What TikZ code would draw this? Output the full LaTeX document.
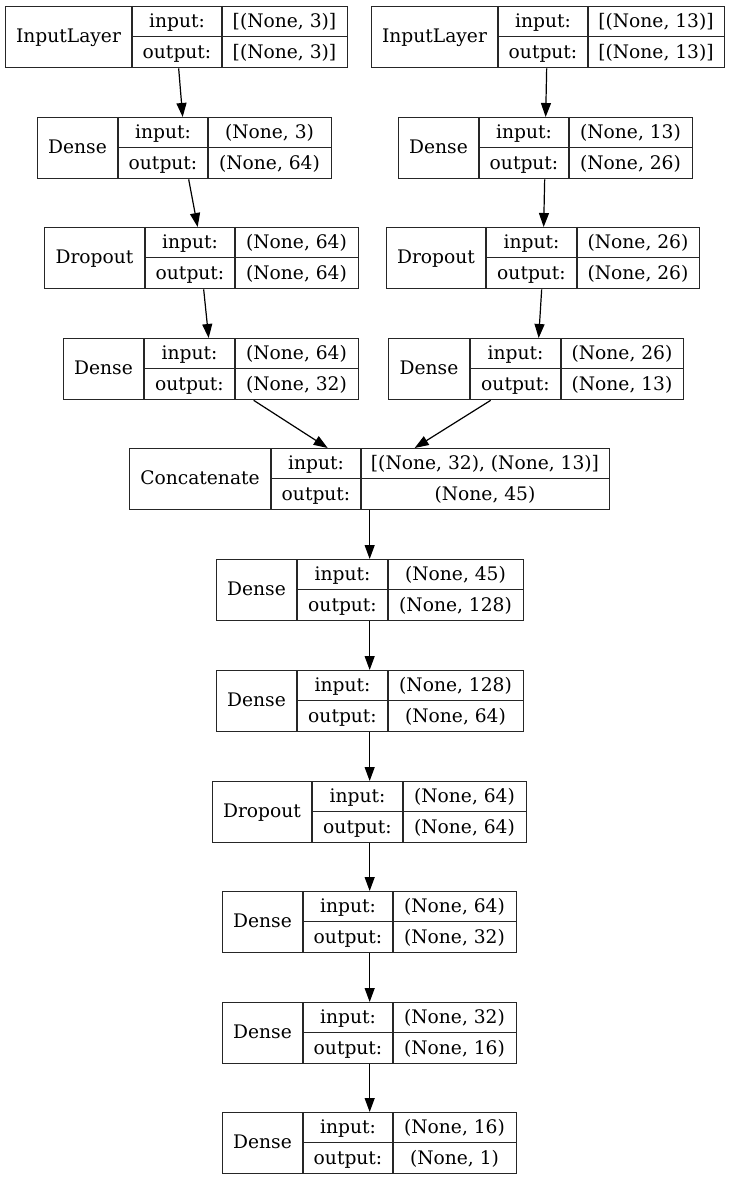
\documentclass[tikz,border=0pt]{standalone}
\usepackage{fontspec}
\setmainfont{DejaVu Serif}
\usetikzlibrary{calc}
\usetikzlibrary{arrows.meta}

\tikzset{
  box/.style={draw=black!85, line width=1pt},
  cell/.style={inner sep=0pt, text height=12.5pt, text depth=3pt, font=\fontsize{14}{16}\selectfont},
  link/.style={draw=black, line width=0.9pt, -{Triangle[length=10.5pt,width=7.5pt]}}
}

% \layer{name}{left}{div1}{div2}{right}{top}{type}{input}{output}
\newcommand{\layer}[9]{
  \node[box, anchor=north west, inner sep=0pt, minimum width={(#5-#2)*0.75pt}, minimum height=45.75pt] (#1) at (#2,#6) {};
  \draw[box] (#3,#6) -- (#3,#6+61) (#4,#6) -- (#4,#6+61) (#3,#6+30.5) -- (#5,#6+30.5);
  \node[cell] at ({(#2+#3)/2},#6+30.5) {#7};
  \node[cell] at ({(#3+#4)/2},#6+15.25) {input:};
  \node[cell] at ({(#3+#4)/2},#6+45.75) {output:};
  \node[cell] at ({(#4+#5)/2},#6+15.25) {#8};
  \node[cell] at ({(#4+#5)/2},#6+45.75) {#9};
}

\begin{document}
\begin{tikzpicture}[x=0.75pt, y=-0.75pt]
\useasboundingbox (0,0) rectangle (730,1180);

% two input branches
\layer{in_l}{5}{132}{222}{347}{6}{InputLayer}{[(None, 3)]}{[(None, 3)]}
\layer{in_r}{371}{498}{588}{724}{6}{InputLayer}{[(None, 13)]}{[(None, 13)]}
\layer{dense_l1}{37}{118}{208}{331}{117}{Dense}{(None, 3)}{(None, 64)}
\layer{dense_r1}{398}{479}{569}{692}{117}{Dense}{(None, 13)}{(None, 26)}
\layer{dropout_l}{44}{145}{235}{358}{227}{Dropout}{(None, 64)}{(None, 64)}
\layer{dropout_r}{386}{486}{577}{699}{227}{Dropout}{(None, 26)}{(None, 26)}
\layer{dense_l2}{63}{144}{235}{358}{338}{Dense}{(None, 64)}{(None, 32)}
\layer{dense_r2}{388}{470}{561}{683}{338}{Dense}{(None, 26)}{(None, 13)}

% merged trunk
\layer{concat}{129}{271}{361}{609}{448}{Concatenate}{[(None, 32), (None, 13)]}{(None, 45)}
\layer{dense_a}{216}{297}{388}{523}{559}{Dense}{(None, 45)}{(None, 128)}
\layer{dense_b}{216}{297}{388}{523}{670}{Dense}{(None, 128)}{(None, 64)}
\layer{dropout_c}{212}{312}{403}{526}{781}{Dropout}{(None, 64)}{(None, 64)}
\layer{dense_d}{222}{303}{393}{516}{891}{Dense}{(None, 64)}{(None, 32)}
\layer{dense_e}{222}{303}{393}{516}{1002}{Dense}{(None, 32)}{(None, 16)}
\layer{dense_f}{222}{303}{393}{516}{1112}{Dense}{(None, 16)}{(None, 1)}

\draw[link] ($(in_l.south)+(2,0)$) -- ($(dense_l1.north)+(-2,0)$);
\draw[link] ($(dense_l1.south)+(4,0)$) -- ($(dropout_l.north)+(-4,0)$);
\draw[link] ($(dropout_l.south)+(2,0)$) -- ($(dense_l2.north)+(-2.5,0)$);
\draw[link] ($(dense_l2.south)+(42.5,0)$) -- ($(concat.north)+(-42,0)$);
\draw[link] ($(in_r.south)+(-1.5,0)$) -- ($(dense_r1.north)+(0,0)$);
\draw[link] ($(dense_r1.south)+(-1,0)$) -- ($(dropout_r.north)+(0.5,0)$);
\draw[link] ($(dropout_r.south)+(-1.5,0)$) -- ($(dense_r2.north)+(2.5,0)$);
\draw[link] ($(dense_r2.south)+(-45.5,0)$) -- ($(concat.north)+(45,0)$);
\foreach \a/\b in {concat/dense_a, dense_a/dense_b, dense_b/dropout_c, dropout_c/dense_d, dense_d/dense_e, dense_e/dense_f}
  \draw[link] (\a.south -| concat.south) -- (\b.north -| concat.south);

\end{tikzpicture}
\end{document}
